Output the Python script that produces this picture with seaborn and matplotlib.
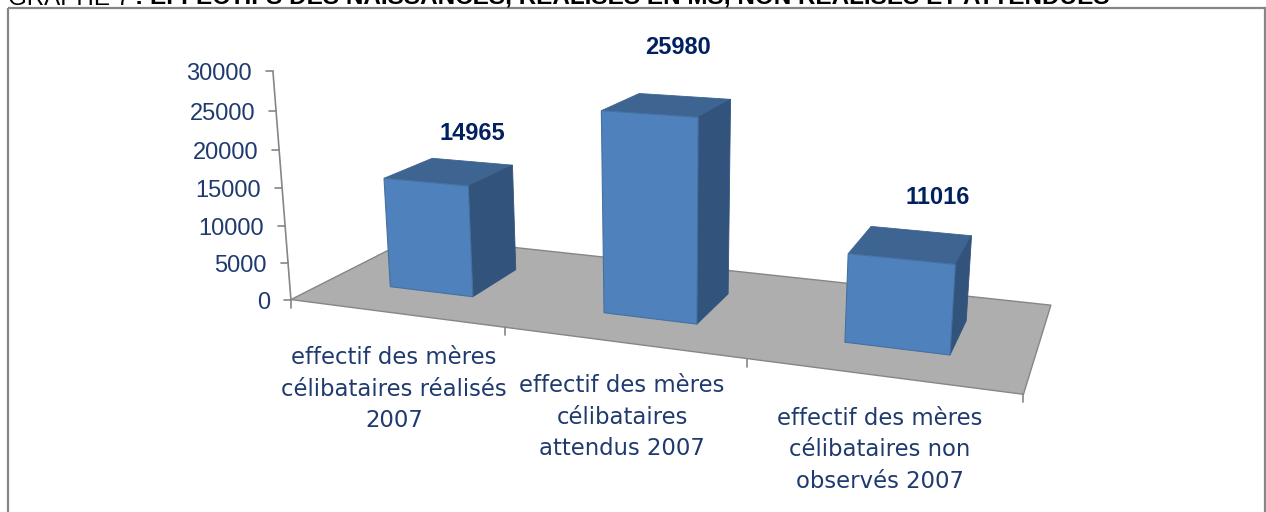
# plot.py - effectifs des meres celibataires 2007 (fake 3D bars)
import numpy as np
import pandas as pd
import matplotlib
matplotlib.use("Agg")
import matplotlib.pyplot as plt
from matplotlib.patches import Polygon, Rectangle
from matplotlib.transforms import Affine2D, Transform
import seaborn as sns

# The data
categories = ["effectif des mères\ncélibataires réalisés\n2007",
              "effectif des mères\ncélibataires\nattendus 2007",
              "effectif des mères\ncélibataires non\nobservés 2007"]
effectifs = [14965, 25980, 11016]
y_ticks = [0, 5000, 10000, 15000, 20000, 25000, 30000]

title_start = "GRAPHE 7"
title_rest = ": EFFECTIFS DES NAISSANCES, RÉALISÉS EN MS, NON RÉALISÉS ET ATTENDUES"

# Layout (pixels in the 1266x512 picture)
W, H = 1266, 512
label_pos = [(394, 389), (622, 417), (880, 450)]
value_pos = [(472, 133), (678, 47), (938, 197)]
BAR_W, D0, D1 = 0.40, 0.29, 0.69  # bar width, front and back of the bars on the floor

# Colours
FRONT = "#4F81BD"
TOP = "#3E6491"
SIDE = "#32537C"
FLOOR = "#AEAEAE"
GREY = "#868686"
TEXT = "#1F3A6E"
VALUE = "#002060"


def fit_camera():
    # Perspective of the scene: (x, value, depth) -> pixel, fitted on points measured in the picture
    half = BAR_W / 2
    pts = [(-0.5, 0, 0, 291, 299), (2.5, 0, 0, 1023, 397), (2.5, 0, 1, 1050, 306), (-0.5, 0, 1, 414, 237),
           (-0.5, 30000, 0, 272, 72), (0.5, 0, 0, 505, 327), (1.5, 0, 0, 748, 359)]
    pts += [(0 - half, 14965, D0, 385, 178), (0 + half, 14965, D0, 469, 186), (0 - half, 0, D0, 390, 287),
            (0 + half, 0, D0, 473, 297), (0 - half, 14965, D1, 433, 158), (0 + half, 14965, D1, 512, 166),
            (0 + half, 0, D1, 516, 269)]
    pts += [(1 - half, 25980, D0, 601, 111), (1 + half, 25980, D0, 698, 117), (1 - half, 0, D0, 604, 313),
            (1 + half, 0, D0, 696, 323), (1 + half, 25980, D1, 731, 99), (1 + half, 0, D1, 729, 295)]
    pts += [(2 - half, 11016, D0, 848, 253), (2 + half, 11016, D0, 955, 264), (2 - half, 0, D0, 845, 341),
            (2 + half, 0, D0, 950, 354), (2 - half, 11016, D1, 871, 226), (2 + half, 11016, D1, 972, 235),
            (2 + half, 0, D1, 967, 321)]
    a, b = [], []
    for x, v, d, u, t in pts:
        X = [x, v / 10000, d]
        a.append(X + [1, 0, 0, 0, 0] + [-u * c for c in X])
        b.append(u)
        a.append([0, 0, 0, 0] + X + [1] + [-t * c for c in X])
        b.append(t)
    sol = np.linalg.lstsq(np.array(a, float), np.array(b, float), rcond=None)[0]
    return np.append(sol, 1.0).reshape(3, 4)


CAM = fit_camera()


def project(x, v, d):
    q = CAM @ np.array([x, v / 10000, d, 1.0])
    return q[0] / q[2], q[1] / q[2]


class FrontFace(Transform):
    # data (x, value) of the bars -> picture pixels on the front plane of the bars
    input_dims = 2
    output_dims = 2

    def __init__(self, plane):
        super().__init__()
        self.plane = plane

    def transform_non_affine(self, values):
        return np.array([project(x, v, self.plane) for x, v in values])


df = pd.DataFrame({"categorie": categories, "effectif": effectifs})

sns.set_theme(style="white")
plt.rcParams["font.family"] = ["DejaVu Sans"]

fig = plt.figure(figsize=(W / 100, H / 100), dpi=100, facecolor="white")
ax = fig.add_axes([0, 0, 1, 1])
pix = Affine2D().scale(1, -1).translate(0, H)  # picture pixels -> display

sns.barplot(data=df, x="categorie", y="effectif", color=FRONT, saturation=1, width=BAR_W,
            edgecolor="#44719F", linewidth=0.8, ax=ax)
ax.set_xlim(-0.5, 2.5)
ax.set_ylim(0, 30000)
ax.axis("off")

# Frame and cut off title
ax.add_patch(Rectangle((8, 8), 1257, 520, transform=pix, fill=False, edgecolor=GREY, linewidth=1.6, clip_on=False))
ax.text(8, 5, title_start, transform=pix, fontsize=17.4, family="Liberation Sans", color="black", va="baseline")
ax.text(135, 5, title_rest, transform=pix, fontsize=17.5, family="Liberation Sans", weight="bold", color="black",
        va="baseline")

# Floor
floor = [project(-0.5, 0, 0), project(2.5, 0, 0), project(2.5, 0, 1), project(-0.5, 0, 1)]
ax.add_patch(Polygon(floor, transform=pix, facecolor=FLOOR, edgecolor=GREY, linewidth=1.0, zorder=0.5, clip_on=False))

# Bars: the front is the seaborn rectangle, top and side follow from its size
front_tr = FrontFace(D0) + pix
for bar in ax.containers[0]:
    x0 = bar.get_x()
    x1 = x0 + bar.get_width()
    v = bar.get_height()
    bar.set_transform(front_tr)
    bar.set_clip_on(False)
    bar.set_zorder(3)
    top = [project(x0, v, D0), project(x1, v, D0), project(x1, v, D1), project(x0, v, D1)]
    side = [project(x1, 0, D0), project(x1, v, D0), project(x1, v, D1), project(x1, 0, D1)]
    ax.add_patch(Polygon(top, transform=pix, facecolor=TOP, edgecolor=TOP, linewidth=0.6, zorder=2, clip_on=False))
    ax.add_patch(Polygon(side, transform=pix, facecolor=SIDE, edgecolor=SIDE, linewidth=0.6, zorder=2, clip_on=False))

# Value axis
ax.plot(*zip(project(-0.5, 0, 0), project(-0.5, 30000, 0)), transform=pix, color=GREY, lw=1.2, clip_on=False)
for tick in y_ticks:
    px, py = project(-0.5, tick, 0)
    ax.plot([px - 7, px], [py, py], transform=pix, color=GREY, lw=1.2, clip_on=False)
    ax.text(px - 21, py + 3, str(tick), transform=pix, ha="right", va="center", fontsize=17,
            family="Liberation Sans", color=TEXT)

# Category axis ticks
for edge in [-0.5, 0.5, 1.5, 2.5]:
    px, py = project(edge, 0, 0)
    ax.plot([px, px], [py, py + 8], transform=pix, color=GREY, lw=1.2, clip_on=False)

for name, (px, py) in zip(categories, label_pos):
    ax.text(px, py, name, transform=pix, ha="center", va="center", fontsize=16.4, color=TEXT, linespacing=1.48)

for val, (px, py) in zip(effectifs, value_pos):
    ax.text(px, py, str(val), transform=pix, ha="center", va="center", fontsize=17, weight="bold",
            family="Liberation Sans", color=VALUE)

fig.savefig("out.png", dpi=100)
